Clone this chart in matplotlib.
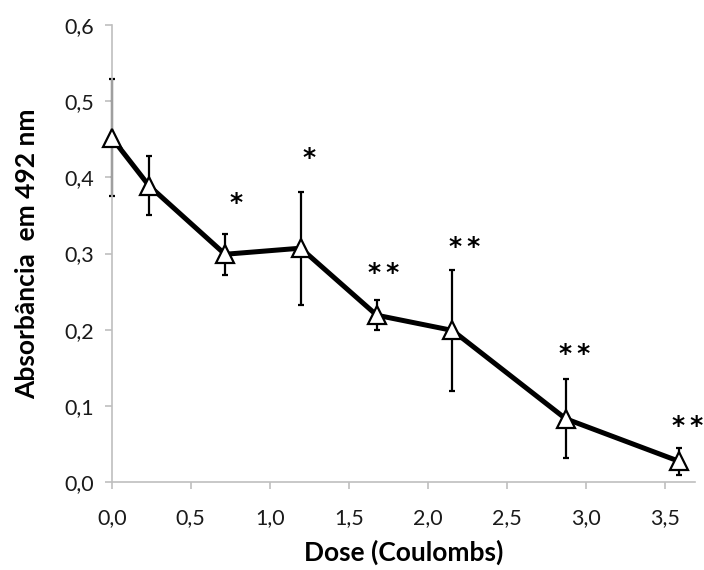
import matplotlib.pyplot as plt

# dados
dose = [0.0, 0.236, 0.717, 1.196, 1.677, 2.156, 2.873, 3.592]
absorb = [0.452, 0.389, 0.299, 0.307, 0.219, 0.199, 0.083, 0.027]
erro = [0.077, 0.039, 0.027, 0.074, 0.020, 0.080, 0.052, 0.018]

# asteriscos de significancia e onde ficam
sig = ['*', '*', '**', '**', '**', '**']
sig_x = [0.787, 1.249, 1.719, 2.23, 2.928, 3.645]
sig_y = [0.366, 0.425, 0.274, 0.309, 0.168, 0.074]

xticks = [0.0, 0.5, 1.0, 1.5, 2.0, 2.5, 3.0, 3.5]
yticks = [0.0, 0.1, 0.2, 0.3, 0.4, 0.5, 0.6]

plt.rcParams['font.family'] = ['Lato', 'DejaVu Sans']

fig = plt.figure(figsize=(7.04, 5.7), dpi=100)
ax = fig.add_axes([0.1587, 0.1544, 0.8283, 0.8017])

ax.errorbar(dose, absorb, yerr=erro, fmt='none', ecolor='black',
            elinewidth=1.6, capsize=2, capthick=1.6, zorder=2, clip_on=False)
ax.plot(dose, absorb, color='black', linewidth=3.6, zorder=3, clip_on=False)
ax.plot(dose, absorb, linestyle='none', marker='^', markersize=13,
        markerfacecolor='white', markeredgecolor='black',
        markeredgewidth=1.6, zorder=4, clip_on=False)

for s, sx, sy in zip(sig, sig_x, sig_y):
    ax.text(sx, sy, '\u2009'.join(s), ha='center', va='center', fontsize=18,
            family='DejaVu Sans', fontweight='bold', color='black')

ax.set_xlim(0, 3.69)
ax.set_ylim(0, 0.6)
ax.set_xticks(xticks)
ax.set_yticks(yticks)
ax.set_xticklabels([('%.1f' % v).replace('.', ',') for v in xticks])
ax.set_yticklabels([('%.1f' % v).replace('.', ',') for v in yticks])

for lado in ['top', 'right']:
    ax.spines[lado].set_visible(False)
for lado in ['left', 'bottom']:
    ax.spines[lado].set_color('#bfbfbf')
    ax.spines[lado].set_linewidth(1.2)
ax.tick_params(colors='#bfbfbf', labelcolor='#1a1a1a', labelsize=15.5,
               length=5, width=1.2, direction='out')
ax.tick_params(axis='x', pad=14)
ax.tick_params(axis='y', pad=8)

ax.set_xlabel('Dose (Coulombs)', fontsize=19, fontweight='bold', labelpad=8)
ax.set_ylabel('Absorbância  em 492 nm', fontsize=19, fontweight='bold',
              labelpad=18)

fig.savefig('out.png', dpi=100)
